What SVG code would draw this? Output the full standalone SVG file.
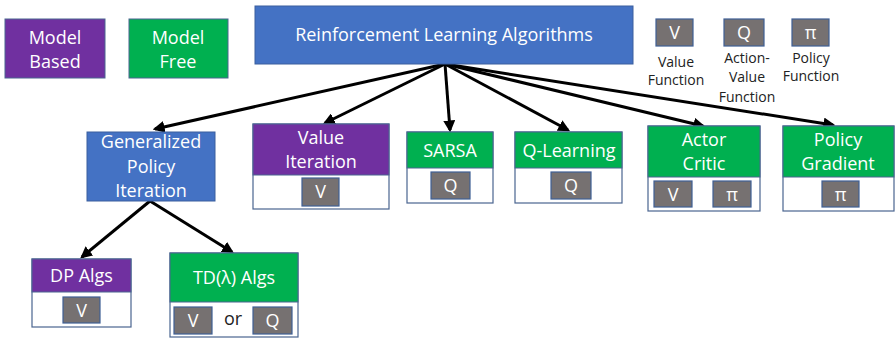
<svg xmlns="http://www.w3.org/2000/svg" width="895" height="338" viewBox="0 0 895 338">
<style>
text{font-family:"Open Sans","Liberation Sans",sans-serif;text-anchor:middle}
.w{fill:#fff;font-size:18px}
.lg{fill:#222;font-size:14px}
.pur{fill:#7030A0;stroke:#4a6590;stroke-width:1}
.grn{fill:#00B050;stroke:#4a6590;stroke-width:1}
.blu{fill:#4472C4;stroke:#3a5f9e;stroke-width:1}
.wh{fill:#fff;stroke:#4a6590;stroke-width:1.2}
.gr{fill:#767171;stroke:#3f5f95;stroke-width:1.2}
.c{stroke:#000;stroke-width:3;fill:none;marker-end:url(#ah)}
</style>
<defs>
<marker id="ah" viewBox="0 0 10 10" refX="8" refY="5" markerWidth="4" markerHeight="4" orient="auto" markerUnits="strokeWidth">
<path d="M0,0 L10,5 L0,10 z" fill="#000"/>
</marker>
</defs>
<rect width="895" height="338" fill="#fff"/>
<g id="connectors">
<line class="c" x1="445" y1="64" x2="155" y2="129"/>
<line class="c" x1="445" y1="64" x2="325" y2="123"/>
<line class="c" x1="445" y1="64" x2="450" y2="130"/>
<line class="c" x1="445" y1="64" x2="568" y2="130"/>
<line class="c" x1="445" y1="64" x2="703" y2="126"/>
<line class="c" x1="445" y1="64" x2="833" y2="125"/>
<line class="c" x1="150" y1="201" x2="82" y2="257"/>
<line class="c" x1="150" y1="201" x2="232" y2="252"/>
</g>
<g id="model-based"><rect class="pur" x="5" y="19" width="100" height="59"/><text class="w" x="55" y="44">Model</text><text class="w" x="55" y="68">Based</text></g>
<g id="model-free"><rect class="grn" x="129" y="19" width="99" height="59"/><text class="w" x="178" y="44">Model</text><text class="w" x="178" y="68">Free</text></g>
<g id="rl-algorithms"><rect class="blu" x="255" y="6" width="378" height="58"/><text class="w" x="444" y="41">Reinforcement Learning Algorithms</text></g>
<g id="legend-v"><rect class="gr" x="656" y="19" width="37" height="27"/><text class="w" x="674.5" y="39">V</text><text class="lg" x="676" y="67">Value</text><text class="lg" x="676" y="85">Function</text></g>
<g id="legend-q"><rect class="gr" x="724" y="19" width="40" height="27"/><text class="w" x="744" y="39">Q</text><text class="lg" x="747" y="63">Action-</text><text class="lg" x="747" y="82">Value</text><text class="lg" x="747" y="102">Function</text></g>
<g id="legend-pi"><rect class="gr" x="792" y="19" width="37" height="27"/><text class="w" x="810.5" y="39">π</text><text class="lg" x="811" y="63">Policy</text><text class="lg" x="811" y="81">Function</text></g>
<g id="gpi"><rect class="blu" x="87" y="132" width="128" height="69"/><text class="w" x="151" y="148">Generalized</text><text class="w" x="151" y="173">Policy</text><text class="w" x="151" y="197">Iteration</text></g>
<g id="value-iteration"><rect class="wh" x="253" y="124" width="136" height="85"/><rect class="pur" x="253" y="124" width="136" height="51"/><text class="w" x="321" y="144">Value</text><text class="w" x="321" y="168">Iteration</text><rect class="gr" x="302" y="178" width="37" height="28"/><text class="w" x="320.5" y="198">V</text></g>
<g id="sarsa"><rect class="wh" x="407" y="132" width="86" height="71"/><rect class="grn" x="407" y="132" width="86" height="36"/><text class="w" x="450" y="157">SARSA</text><rect class="gr" x="431" y="172" width="39" height="27"/><text class="w" x="450.5" y="192">Q</text></g>
<g id="q-learning"><rect class="wh" x="515" y="132" width="107" height="71"/><rect class="grn" x="515" y="132" width="107" height="36"/><text class="w" x="569" y="157">Q-Learning</text><rect class="gr" x="551" y="172" width="40" height="27"/><text class="w" x="571" y="192">Q</text></g>
<g id="actor-critic"><rect class="wh" x="648" y="126" width="112" height="85"/><rect class="grn" x="648" y="126" width="112" height="51"/><text class="w" x="704" y="146">Actor</text><text class="w" x="704" y="170">Critic</text><rect class="gr" x="654" y="181" width="38" height="26"/><text class="w" x="673" y="201">V</text><rect class="gr" x="713" y="181" width="38" height="26"/><text class="w" x="732" y="201">π</text></g>
<g id="policy-gradient"><rect class="wh" x="783" y="126" width="111" height="85"/><rect class="grn" x="783" y="126" width="111" height="51"/><text class="w" x="838" y="146">Policy</text><text class="w" x="838" y="170">Gradient</text><rect class="gr" x="822" y="181" width="37" height="26"/><text class="w" x="840.5" y="201">π</text></g>
<g id="dp-algs"><rect class="wh" x="32" y="259" width="99" height="68"/><rect class="pur" x="32" y="259" width="99" height="33"/><text class="w" x="81.5" y="282">DP Algs</text><rect class="gr" x="63" y="297" width="37" height="26"/><text class="w" x="81.5" y="317">V</text></g>
<g id="td-algs"><rect class="wh" x="170" y="253" width="128" height="84"/><rect class="grn" x="170" y="253" width="128" height="49"/><text class="w" x="234" y="284">TD(λ) Algs</text><rect class="gr" x="174" y="307" width="38" height="27"/><text class="w" x="193" y="327">V</text><text x="233" y="325" style="font-size:18px;fill:#222">or</text><rect class="gr" x="253" y="307" width="39" height="27"/><text class="w" x="272.5" y="327">Q</text></g>
</svg>
